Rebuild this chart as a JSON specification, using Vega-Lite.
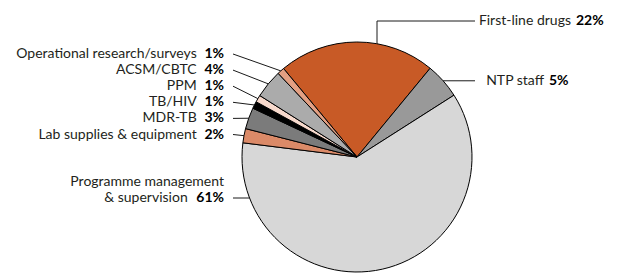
{
  "$schema": "https://vega.github.io/schema/vega-lite/v6.json",
  "width": 621,
  "height": 276,
  "autosize": "none",
  "padding": 0,
  "background": "#ffffff",
  "config": {"view": {"stroke": null}, "font": "Lato"},
  "data": {
    "values": [
      {"order": 1, "item": "First-line drugs", "label": "First-line drugs", "pct": 22},
      {"order": 2, "item": "NTP staff", "label": "NTP staff", "pct": 5},
      {"order": 3, "item": "Programme management & supervision", "label": ["Programme management", "& supervision"], "pct": 61},
      {"order": 4, "item": "Lab supplies & equipment", "label": "Lab supplies & equipment", "pct": 2},
      {"order": 5, "item": "MDR-TB", "label": "MDR-TB", "pct": 3},
      {"order": 6, "item": "TB/HIV", "label": "TB/HIV", "pct": 1},
      {"order": 7, "item": "PPM", "label": "PPM", "pct": 1},
      {"order": 8, "item": "ACSM/CBTC", "label": "ACSM/CBTC", "pct": 4},
      {"order": 9, "item": "Operational research/surveys", "label": "Operational research/surveys", "pct": 1}
    ]
  },
  "transform": [
    {"window": [{"op": "sum", "field": "pct", "as": "cum"}], "sort": [{"field": "order"}], "frame": [null, 0]},
    {"calculate": "(datum.cum - datum.pct / 2) * PI / 50 - 0.693", "as": "mid"},
    {"calculate": "115 * sin(datum.mid)", "as": "ex"},
    {"calculate": "115 * cos(datum.mid)", "as": "ey"},
    {"calculate": "datum.order <= 2 ? 130 : -133", "as": "lx"},
    {"calculate": "datum.order == 1 ? 136 : datum.order == 2 ? datum.ey : datum.order == 3 ? -41 : 103 - 16.1 * (9 - datum.order)", "as": "ly"},
    {"calculate": "datum.pct + '%'", "as": "pctLabel"},
    {"calculate": "datum.lx + (datum.order == 1 ? 89 : 62)", "as": "pctX"},
    {"calculate": "datum.order <= 2 ? datum.pctX - 5 : datum.lx - 9 * length(datum.pctLabel) - 9.3", "as": "nameX"},
    {"calculate": "isArray(datum.label) ? peek(datum.label) : datum.label", "as": "lastLine"},
    {"calculate": "isArray(datum.label) ? datum.label[0] : ''", "as": "firstLine"},
    {"calculate": "datum.ly + 16", "as": "firstY"},
    {"calculate": "datum.order <= 2 ? datum.lx - 12 : datum.lx + 9", "as": "x1"},
    {"calculate": "datum.ly", "as": "y1"},
    {"calculate": "datum.order == 1 ? 20 : datum.order <= 3 ? (datum.order == 2 ? 1 : -1) * sqrt(115 * 115 - datum.ly * datum.ly) : datum.ex", "as": "x2"},
    {"calculate": "datum.order <= 3 ? datum.ly : datum.ey", "as": "y2"},
    {"calculate": "sqrt(115 * 115 - 20 * 20)", "as": "vy2"}
  ],
  "layer": [
    {
      "mark": {"type": "rule", "color": "#1a1a1a", "strokeWidth": 1},
      "encoding": {
        "x": {"field": "x1", "type": "quantitative", "scale": {"domain": [-357, 264], "nice": false, "zero": false}, "axis": null},
        "y": {"field": "y1", "type": "quantitative", "scale": {"domain": [-119, 157], "nice": false, "zero": false}, "axis": null},
        "x2": {"field": "x2"},
        "y2": {"field": "y2"}
      }
    },
    {
      "transform": [{"filter": "datum.order == 1"}],
      "mark": {"type": "rule", "color": "#1a1a1a", "strokeWidth": 1},
      "encoding": {
        "x": {"field": "x2", "type": "quantitative"},
        "y": {"field": "ly", "type": "quantitative"},
        "y2": {"field": "vy2"}
      }
    },
    {
      "mark": {"type": "arc", "outerRadius": 115, "stroke": "#000000", "strokeWidth": 1},
      "encoding": {
        "x": {"datum": 0, "type": "quantitative"},
        "y": {"datum": 0, "type": "quantitative"},
        "theta": {"field": "pct", "type": "quantitative", "stack": true, "scale": {"range": [-0.693, 5.5902]}},
        "order": {"field": "order"},
        "color": {
          "field": "item",
          "type": "nominal",
          "legend": null,
          "scale": {
            "domain": ["First-line drugs", "NTP staff", "Programme management & supervision", "Lab supplies & equipment", "MDR-TB", "TB/HIV", "PPM", "ACSM/CBTC", "Operational research/surveys"],
            "range": ["#C85A26", "#999999", "#D7D7D7", "#DB8A68", "#7B7B7B", "#000000", "#F7D9CC", "#ABABAB", "#E3A083"]
          }
        }
      }
    },
    {
      "mark": {"type": "text", "align": "right", "baseline": "middle", "fontSize": 14, "color": "#231f20"},
      "encoding": {
        "x": {"field": "nameX", "type": "quantitative"},
        "y": {"field": "ly", "type": "quantitative"},
        "text": {"field": "lastLine"}
      }
    },
    {
      "transform": [{"filter": "isArray(datum.label)"}],
      "mark": {"type": "text", "align": "right", "baseline": "middle", "fontSize": 14, "color": "#231f20"},
      "encoding": {
        "x": {"field": "lx", "type": "quantitative"},
        "y": {"field": "firstY", "type": "quantitative"},
        "text": {"field": "firstLine"}
      }
    },
    {
      "transform": [{"filter": "datum.order > 2"}],
      "mark": {"type": "text", "align": "right", "baseline": "middle", "fontSize": 14, "fontWeight": "bold", "color": "#000000"},
      "encoding": {
        "x": {"field": "lx", "type": "quantitative"},
        "y": {"field": "ly", "type": "quantitative"},
        "text": {"field": "pctLabel"}
      }
    },
    {
      "transform": [{"filter": "datum.order <= 2"}],
      "mark": {"type": "text", "align": "left", "baseline": "middle", "fontSize": 14, "fontWeight": "bold", "color": "#000000"},
      "encoding": {
        "x": {"field": "pctX", "type": "quantitative"},
        "y": {"field": "ly", "type": "quantitative"},
        "text": {"field": "pctLabel"}
      }
    }
  ]
}
